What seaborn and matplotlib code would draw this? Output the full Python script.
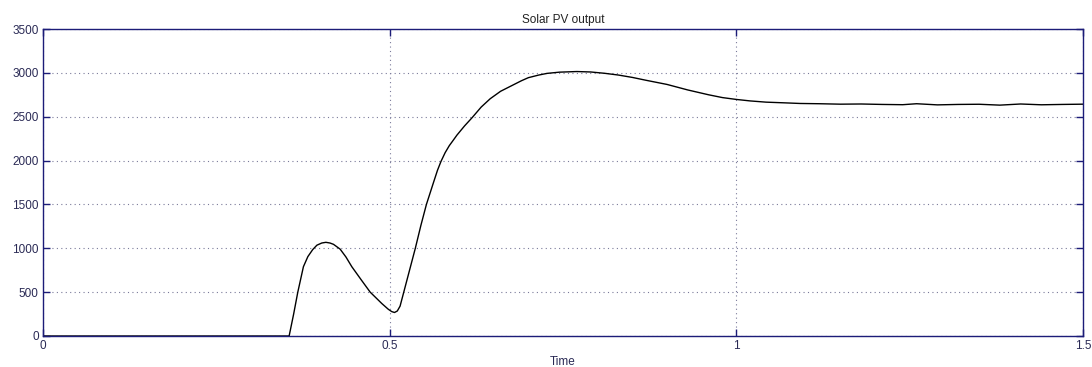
import matplotlib
matplotlib.use("Agg")
import matplotlib.pyplot as plt
import seaborn as sns
import pandas as pd

# Data
time = [0.0, 0.355, 0.3615, 0.3675, 0.3756, 0.382, 0.389, 0.395, 0.402, 0.408,
        0.414, 0.419, 0.4286, 0.437, 0.4454, 0.459, 0.4719, 0.4887, 0.498, 0.503,
        0.507, 0.511, 0.515, 0.521, 0.529, 0.537, 0.545, 0.553, 0.563, 0.569,
        0.574, 0.58, 0.586, 0.592, 0.597, 0.608, 0.619, 0.632, 0.645, 0.66,
        0.675, 0.69, 0.70, 0.715, 0.727, 0.745, 0.77, 0.79, 0.81, 0.83,
        0.85, 0.87, 0.90, 0.93, 0.96, 0.98, 1.0, 1.02, 1.043, 1.07,
        1.092, 1.12, 1.15, 1.18, 1.21, 1.24, 1.26, 1.29, 1.32, 1.35,
        1.38, 1.41, 1.44, 1.47, 1.5]
power = [0, 0, 250, 500, 790, 905, 985, 1035, 1060, 1068,
         1060, 1045, 990, 900, 790, 640, 500, 370, 305, 278,
         268, 285, 340, 520, 760, 1000, 1260, 1500, 1745, 1890,
         1990, 2090, 2170, 2235, 2290, 2395, 2490, 2610, 2705, 2790,
         2850, 2910, 2945, 2975, 2994, 3008, 3015, 3010, 2995, 2975,
         2948, 2915, 2868, 2805, 2750, 2718, 2697, 2680, 2666, 2658,
         2651, 2648, 2643, 2645, 2640, 2637, 2648, 2635, 2640, 2642,
         2632, 2645, 2636, 2640, 2643]

x_ticks = [0, 0.5, 1, 1.5]
x_tick_labels = ["0", "0.5", "1", "1.5"]
y_ticks = [0, 500, 1000, 1500, 2000, 2500, 3000, 3500]

sns.set_style("white")
plt.rcParams['font.family'] = ['Liberation Sans', 'DejaVu Sans']

navy = "#1c1c78"
label_col = "#2a2a55"

fig = plt.figure(figsize=(10.92, 3.67), dpi=100)
ax = fig.add_axes([43/1092, 31/367, 1040/1092, 307/367])

df = pd.DataFrame({"Time": time, "Power": power})
sns.lineplot(data=df, x="Time", y="Power", ax=ax, color="black", linewidth=1.0)

ax.set_xlim(0, 1.5)
ax.set_ylim(0, 3500)
ax.set_xticks(x_ticks)
ax.set_xticklabels(x_tick_labels)
ax.set_yticks(y_ticks)
ax.grid(True, linestyle=(0, (1, 3)), color="#7a7a9a", linewidth=0.8)
ax.set_axisbelow(True)

for s in ax.spines.values():
    s.set_color(navy)
    s.set_linewidth(1.0)
ax.tick_params(axis="both", which="both", direction="in", length=5, width=1,
               color=navy, labelcolor=label_col, labelsize=8.5,
               top=True, right=True, bottom=True, left=True, pad=3)
ax.set_xlabel("Time", fontsize=8.5, color=label_col, labelpad=3)
ax.set_ylabel("")
ax.set_title("Solar PV output", fontsize=8.5, color="#222222", pad=4)

fig.savefig("out.png", dpi=100, facecolor="white")
